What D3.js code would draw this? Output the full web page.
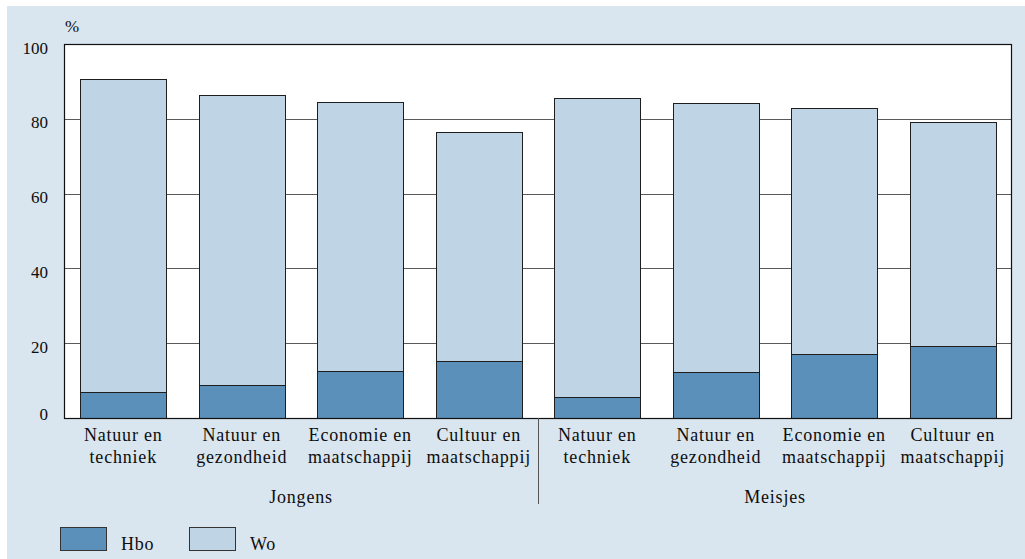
<!DOCTYPE html>
<html>
<head>
<meta charset="utf-8">
<script src="https://cdn.jsdelivr.net/npm/d3@7"></script>
<style>
  html, body { margin: 0; padding: 0; background: #ffffff; }
  svg { display: block; }
  text { font-family: "Liberation Serif", "DejaVu Serif", serif; fill: #0d0d0d; }
</style>
</head>
<body>
<svg id="chart" width="1025" height="559"></svg>
<script>
// Field-of-study categories (two-line labels) per group
const categories = [
  ["Natuur en", "techniek"],
  ["Natuur en", "gezondheid"],
  ["Economie en", "maatschappij"],
  ["Cultuur en", "maatschappij"],
  ["Natuur en", "techniek"],
  ["Natuur en", "gezondheid"],
  ["Economie en", "maatschappij"],
  ["Cultuur en", "maatschappij"]
];
const groups = ["Jongens", "Meisjes"];
const seriesNames = ["Hbo", "Wo"];
// Percentages per bar, stacked Hbo (bottom) then Wo (top)
const hbo = [7.0, 8.7, 12.6, 15.3, 5.5, 12.3, 17.0, 19.3];
const wo  = [83.6, 77.6, 72.0, 61.1, 80.0, 72.0, 66.0, 59.9];
const yTicks = [0, 20, 40, 60, 80, 100];

const svg = d3.select("#chart");
const W = 1025, H = 559;
const plot = { left: 64, top: 44, right: 1012, bottom: 418 };
const colors = { Hbo: "#5b90bb", Wo: "#bfd4e5" };
const labelFont = 18, labelSpacing = "0.8px";

// panel background
svg.append("rect")
  .attr("x", 7).attr("y", 6).attr("width", W - 7).attr("height", H - 6)
  .attr("fill", "#d9e5ef");

const x = d3.scaleBand()
  .domain(d3.range(categories.length))
  .range([plot.left, plot.right])
  .paddingInner(0.278)
  .paddingOuter(0.139);

const y = d3.scaleLinear().domain([0, 100]).range([plot.bottom, plot.top]);

// white plotting area
svg.append("rect")
  .attr("x", plot.left).attr("y", plot.top)
  .attr("width", plot.right - plot.left).attr("height", plot.bottom - plot.top)
  .attr("fill", "#ffffff");

// horizontal gridlines
svg.append("g")
  .selectAll("line")
  .data(yTicks.filter(t => t > 0 && t < 100))
  .join("line")
  .attr("x1", plot.left).attr("x2", plot.right)
  .attr("y1", d => Math.round(y(d)) + 0.5).attr("y2", d => Math.round(y(d)) + 0.5)
  .attr("stroke", "#5a5a5a").attr("stroke-width", 1);

// stacked bars
const table = categories.map((c, i) => ({ i, Hbo: hbo[i], Wo: wo[i] }));
const stack = d3.stack().keys(seriesNames)(table);

svg.append("g")
  .selectAll("g")
  .data(stack)
  .join("g")
  .attr("fill", d => colors[d.key])
  .selectAll("rect")
  .data(d => d)
  .join("rect")
  .attr("x", d => Math.round(x(d.data.i)) + 0.5)
  .attr("width", Math.round(x.bandwidth()))
  .attr("y", d => Math.round(y(d[1])) + 0.5)
  .attr("height", d => Math.round(y(d[0])) - Math.round(y(d[1])))
  .attr("stroke", "#1e1e1e")
  .attr("stroke-width", 1);

// frame of the plotting area
svg.append("rect")
  .attr("x", plot.left + 0.5).attr("y", plot.top + 0.5)
  .attr("width", plot.right - plot.left - 1).attr("height", plot.bottom - plot.top)
  .attr("fill", "none").attr("stroke", "#111").attr("stroke-width", 1.2);

// y axis labels: set just below each gridline, the zero label lifted to the baseline
const yAxis = d3.axisLeft(y).tickValues(yTicks).tickSize(0).tickPadding(16);
const gy = svg.append("g")
  .attr("transform", `translate(${plot.left},0)`)
  .call(yAxis);
gy.select(".domain").remove();
gy.selectAll("text")
  .attr("font-family", "Liberation Serif, serif")
  .attr("font-size", 17)
  .attr("fill", "#0d0d0d")
  .attr("dy", d => d === 0 ? "0.1em" : "0.53em");

svg.append("text")
  .attr("x", 65).attr("y", 32)
  .attr("font-size", 17)
  .text("%");

// category labels
const catG = svg.append("g");
categories.forEach((lines, i) => {
  const cx = x(i) + x.bandwidth() / 2;
  const t = catG.append("text")
    .attr("text-anchor", "middle")
    .attr("font-size", labelFont)
    .attr("letter-spacing", labelSpacing);
  lines.forEach((ln, k) => {
    t.append("tspan").attr("x", cx).attr("y", 441 + k * 22).text(ln);
  });
});

// group labels and separator
const perGroup = categories.length / groups.length;
groups.forEach((g, gi) => {
  const x0 = x.range()[0] + x.step() * perGroup * gi;
  const x1 = x0 + x.step() * perGroup;
  svg.append("text")
    .attr("x", (x0 + x1) / 2).attr("y", 503)
    .attr("text-anchor", "middle")
    .attr("font-size", labelFont)
    .attr("letter-spacing", labelSpacing)
    .text(g);
});
const sepX = Math.round(plot.left + x.step() * perGroup) + 0.5;
svg.append("line")
  .attr("x1", sepX).attr("x2", sepX)
  .attr("y1", plot.bottom).attr("y2", 504)
  .attr("stroke", "#555").attr("stroke-width", 1);

// legend
const legendPos = [{ x: 60, tx: 121 }, { x: 189, tx: 250 }];
seriesNames.forEach((s, i) => {
  svg.append("rect")
    .attr("x", legendPos[i].x + 0.5).attr("y", 527.5)
    .attr("width", 46).attr("height", 23)
    .attr("fill", colors[s]).attr("stroke", "#333").attr("stroke-width", 1);
  svg.append("text")
    .attr("x", legendPos[i].tx).attr("y", 550)
    .attr("font-size", labelFont)
    .attr("letter-spacing", labelSpacing)
    .text(s);
});
</script>
</body>
</html>
